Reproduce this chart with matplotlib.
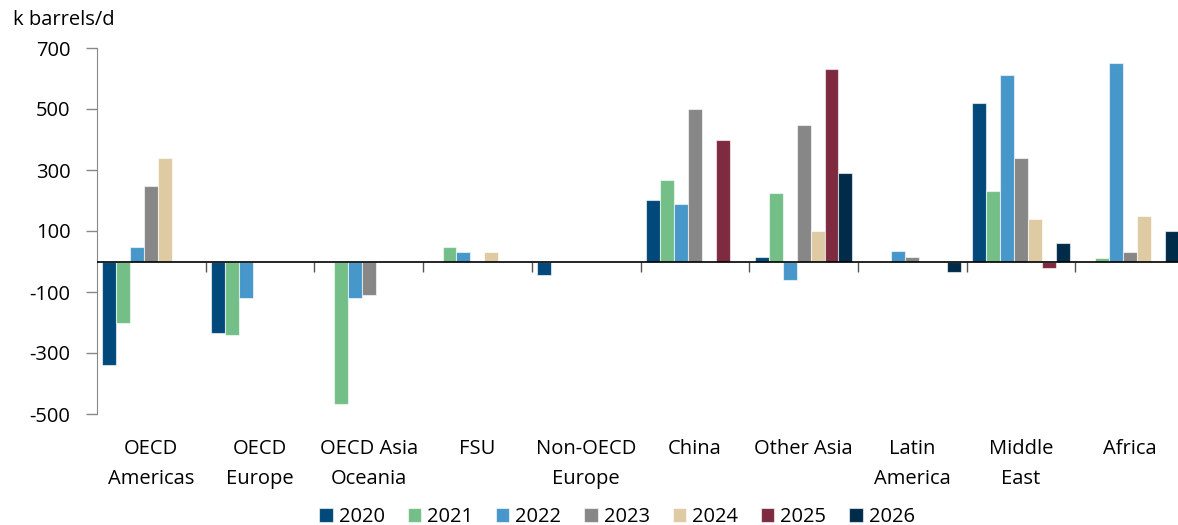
import numpy as np
import matplotlib.pyplot as plt

plt.rcParams['font.family'] = ['Open Sans', 'DejaVu Sans']
plt.rcParams['axes.unicode_minus'] = False

regions = ["OECD\nAmericas", "OECD\nEurope", "OECD Asia\nOceania", "FSU", "Non-OECD\nEurope",
           "China", "Other Asia", "Latin\nAmerica", "Middle\nEast", "Africa"]
years = ["2020", "2021", "2022", "2023", "2024", "2025", "2026"]

# k barrels/d, one list per year, in region order
y2020 = [-338, -234, 0, 0, -44, 203, 14, 0, 520, 0]
y2021 = [-201, -241, -467, 49, 0, 266, 225, 0, 230, 10]
y2022 = [49, -119, -119, 30, 0, 190, -60, 33, 610, 651]
y2023 = [249, 0, -109, 0, 0, 500, 446, 15, 340, 30]
y2024 = [339, 0, 0, 30, 0, 0, 100, 0, 140, 150]
y2025 = [0, 0, 0, 0, 0, 399, 631, 0, -21, 0]
y2026 = [0, 0, 0, 0, 0, 0, 290, -36, 60, 100]
series = [y2020, y2021, y2022, y2023, y2024, y2025, y2026]

colors = ["#00497A", "#74BF87", "#4797CA", "#878787", "#DECBA3", "#7E2B40", "#002B49"]

FS = 14.5

fig = plt.figure(figsize=(11.78, 5.25), dpi=100)
ax = fig.add_axes([97 / 1178, 1 - 414 / 525, 1087 / 1178, 366 / 525])

x = np.arange(len(regions))
w = 0.9 / len(years)
for i, (vals, c, lab) in enumerate(zip(series, colors, years)):
    ax.bar(x - 0.45 + w * (i + 0.5), vals, width=w, color=c, label=lab,
           edgecolor=(1, 1, 1, 0.6), linewidth=0.8, zorder=2)

ax.set_xlim(-0.5, len(regions) - 0.5)
ax.set_ylim(-500, 700)
ax.set_yticks(np.arange(-500, 701, 200))
ax.tick_params(axis='y', length=8, width=1, color='#888888', labelsize=FS, pad=11)

# zero line with category separator ticks
ax.axhline(0, color='black', linewidth=1.2, zorder=3)
ax.spines['bottom'].set_position(('data', 0))
ax.spines['bottom'].set_visible(False)
ax.set_xticks(np.arange(0.5, len(regions) - 0.5, 1))
ax.set_xticklabels([])
ax.tick_params(axis='x', length=7, width=1, color='#555555', direction='out')
for s in ['top', 'right']:
    ax.spines[s].set_visible(False)
ax.spines['left'].set_color('#888888')

# category labels sit below the plot area, not at the zero line
for xi, name in zip(x, regions):
    ax.text(xi, -0.068, name, transform=ax.get_xaxis_transform(), ha='center', va='top',
            fontsize=FS, linespacing=1.65, clip_on=False)

fig.text(13 / 1178, 1 - 20 / 525, "k barrels/d", fontsize=FS, va='center', ha='left')

leg = fig.legend(loc='center', bbox_to_anchor=(617 / 1178, 1 - 517 / 525), ncol=7, frameon=False,
                 fontsize=FS, handlelength=0.65, handleheight=0.65, handletextpad=0.3,
                 columnspacing=1.15, borderaxespad=0)

fig.savefig("out.png", dpi=100)
